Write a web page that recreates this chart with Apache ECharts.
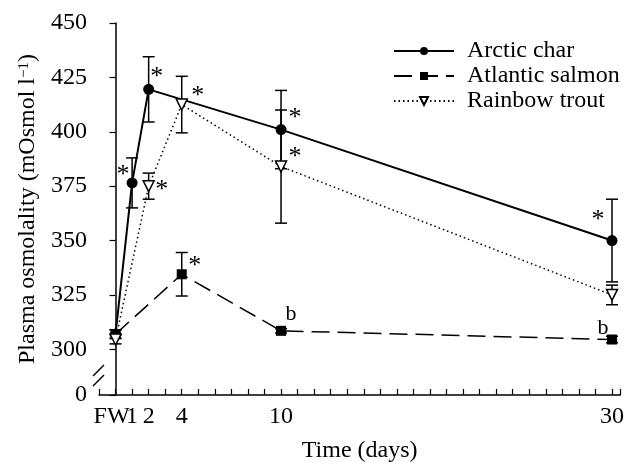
<!DOCTYPE html>
<html>
<head>
<meta charset="utf-8">
<script src="https://cdn.jsdelivr.net/npm/echarts@6/dist/echarts.min.js"></script>
<style>html,body{margin:0;padding:0;background:#fff}#main{width:627px;height:468px}</style>
</head>
<body>
<div id="main"></div>
<script>
// x = days in sea water (FW = 0, fresh water control)
var dayTicks = [1, 2, 4, 10, 30];
var fwTick = 0;
var fwLabel = 'FW';
// y axis is broken: 279 stands for the 0 under the break
var yTicks = [279, 300, 325, 350, 375, 400, 425, 450];

var charDays = [0, 1, 2, 10, 30];
var charMean = [307, 376.5, 419.5, 401, 350];
var charSem = [2, 11.5, 15, 18, 19];
var charNote = ['', '*', '*', '*', '*'];

var salmonDays = [0, 4, 10, 30];
var salmonMean = [307, 334.5, 308.5, 304.5];
var salmonSem = [2, 10, 1, 1.5];
var salmonNote = ['', '*', 'b', 'b'];

var troutDays = [0, 2, 4, 10, 30];
var troutMean = [304.5, 375, 412.5, 384, 325];
var troutSem = [2, 6, 13, 26, 4.5];
var troutNote = ['', '*', '*', '*', ''];

// where each note sits relative to its point (px)
var charNoteOff = [[0, 0], [-9, -8], [8, -12], [14, -11], [-14, -20]];
var salmonNoteOff = [[0, 0], [13, -8], [10, -17], [-9, -11]];
var troutNoteOff = [[0, 0], [13, 4], [16, -8], [14, -9], [0, 0]];

var serif = '"Liberation Serif", "Times New Roman", serif';

function points(days, mean, note, off) {
    return days.map(function (d, i) {
        return {
            value: [d, mean[i]],
            label: {
                show: note[i] !== '',
                formatter: note[i],
                position: 'inside',
                offset: off[i],
                fontFamily: serif,
                fontSize: note[i] === '*' ? 26 : 22,
                color: '#000'
            }
        };
    });
}

function errorBars(days, mean, sem) {
    return {
        type: 'custom',
        silent: true,
        z: 1,
        encode: {x: 0, y: [1, 2]},
        data: days.map(function (d, i) { return [d, mean[i] - sem[i], mean[i] + sem[i]]; }),
        renderItem: function (params, api) {
            var lo = api.coord([api.value(0), api.value(1)]);
            var hi = api.coord([api.value(0), api.value(2)]);
            var w = 6;
            var st = {stroke: '#000', lineWidth: 1.5};
            return {
                type: 'group',
                children: [
                    {type: 'line', shape: {x1: lo[0], y1: lo[1], x2: hi[0], y2: hi[1]}, style: st},
                    {type: 'line', shape: {x1: lo[0] - w, y1: lo[1], x2: lo[0] + w, y2: lo[1]}, style: st},
                    {type: 'line', shape: {x1: hi[0] - w, y1: hi[1], x2: hi[0] + w, y2: hi[1]}, style: st}
                ]
            };
        }
    };
}

var chart = echarts.init(document.getElementById('main'));
var option = {
    animation: false,
    backgroundColor: '#fff',
    grid: {left: 99, top: 23, right: 2, bottom: 69},
    legend: {
        data: ['Arctic char', 'Atlantic salmon', 'Rainbow trout'],
        orient: 'vertical',
        left: 393,
        top: 39,
        padding: 0,
        itemWidth: 60,
        itemHeight: 10,
        itemGap: 1,
        textStyle: {fontFamily: serif, fontSize: 24, lineHeight: 24, color: '#000', padding: [0, 0, 0, 8]}
    },
    xAxis: [{
        type: 'value',
        position: 'bottom',
        min: -1,
        max: 30.5,
        interval: 1,
        name: 'Time (days)',
        nameLocation: 'middle',
        nameGap: 44,
        nameTextStyle: {fontFamily: serif, fontSize: 24, color: '#000'},
        axisLine: {lineStyle: {color: '#000', width: 1.5}},
        axisTick: {inside: true, length: 6, lineStyle: {color: '#000', width: 1.2}},
        axisLabel: {
            customValues: dayTicks,
            hideOverlap: false,
            fontFamily: serif, fontSize: 24, color: '#000', margin: 10
        },
        splitLine: {show: false}
    }, {
        // carries only the FW label, set a little left of its tick
        type: 'value',
        position: 'bottom',
        min: -1,
        max: 30.5,
        axisLine: {show: false},
        axisTick: {show: false},
        axisLabel: {
            customValues: [fwTick],
            formatter: function () { return fwLabel; },
            padding: [0, 8, 0, 0],
            fontFamily: serif, fontSize: 24, color: '#000', margin: 10
        },
        splitLine: {show: false}
    }],
    yAxis: {
        type: 'value',
        min: 279,
        max: 450,
        name: 'Plasma osmolality (mOsmol l{sup|\u22121})',
        nameLocation: 'middle',
        nameGap: 58,
        nameTextStyle: {
            fontFamily: serif, fontSize: 24, color: '#000',
            rich: {sup: {fontFamily: serif, fontSize: 15, color: '#000', verticalAlign: 'top'}}
        },
        axisLine: {show: true, lineStyle: {color: '#000', width: 1.5}},
        axisTick: {show: true, customValues: yTicks, length: 6, lineStyle: {color: '#000', width: 1.2}},
        axisLabel: {
            customValues: yTicks,
            showMinLabel: true,
            formatter: function (v) { return v === yTicks[0] ? '0' : String(v); },
            fontFamily: serif, fontSize: 24, color: '#000', margin: 12
        },
        splitLine: {show: false}
    },
    series: [
        errorBars(charDays, charMean, charSem),
        errorBars(salmonDays, salmonMean, salmonSem),
        errorBars(troutDays, troutMean, troutSem),
        {
            name: 'Arctic char',
            type: 'line',
            z: 3,
            symbol: 'circle',
            symbolSize: 11,
            itemStyle: {color: '#000'},
            lineStyle: {color: '#000', width: 2},
            data: points(charDays, charMean, charNote, charNoteOff)
        },
        {
            name: 'Atlantic salmon',
            type: 'line',
            z: 4,
            symbol: 'rect',
            symbolSize: 10,
            itemStyle: {color: '#000'},
            lineStyle: {color: '#000', width: 1.5, type: [18, 8]},
            data: points(salmonDays, salmonMean, salmonNote, salmonNoteOff)
        },
        {
            name: 'Rainbow trout',
            type: 'line',
            z: 5,
            symbol: 'triangle',
            symbolRotate: 180,
            symbolSize: 11,
            itemStyle: {color: '#fff', borderColor: '#000', borderWidth: 1.5},
            lineStyle: {color: '#000', width: 1.5, type: [1.5, 3]},
            data: points(troutDays, troutMean, troutNote, troutNoteOff)
        }
    ]
};
chart.setOption(option);

// axis break marks on the y axis
var x0 = chart.convertToPixel({xAxisIndex: 0}, -1);
var yb = chart.convertToPixel({yAxisIndex: 0}, 279);
var brk = {stroke: '#000', lineWidth: 1.5};
chart.setOption({
    graphic: [
        {type: 'rect', shape: {x: x0 - 3, y: yb - 24, width: 6, height: 10}, style: {fill: '#fff'}, z: 10},
        {type: 'line', shape: {x1: x0 - 6, y1: yb - 19, x2: x0 + 5, y2: yb - 30}, style: brk, z: 11},
        {type: 'line', shape: {x1: x0 - 6, y1: yb - 9, x2: x0 + 5, y2: yb - 20}, style: brk, z: 11}
    ]
});
</script>
</body>
</html>
